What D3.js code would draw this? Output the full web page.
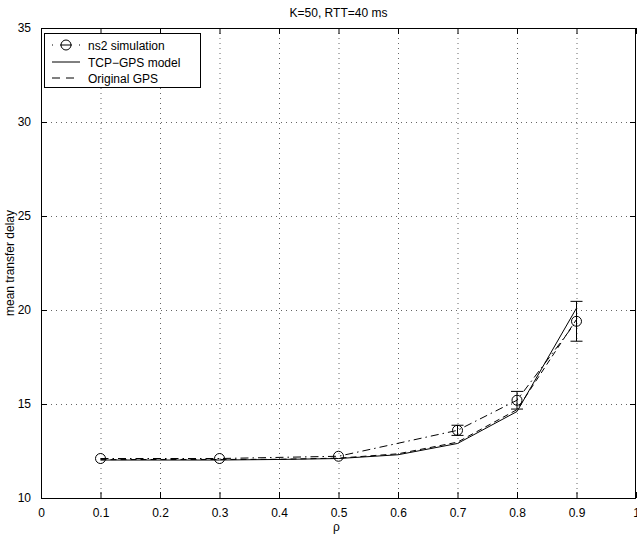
<!DOCTYPE html>
<html>
<head>
<meta charset="utf-8">
<script src="https://cdn.jsdelivr.net/npm/d3@7"></script>
<style>
  html, body { margin: 0; padding: 0; background: #fff; }
  svg { display: block; font-family: "Liberation Sans", Arial, Helvetica, sans-serif; }
</style>
</head>
<body>
<svg id="chart" width="637" height="535"></svg>
<script>
// Load values (rho) and the three delay curves
const rho = [0.1, 0.2, 0.3, 0.4, 0.5, 0.6, 0.7, 0.8, 0.9];
const tcpGpsModel = [12.02, 12.02, 12.02, 12.05, 12.1, 12.3, 12.9, 14.6, 20.1];
const originalGps = [12.04, 12.05, 12.05, 12.06, 12.12, 12.35, 12.97, 14.7, 19.5];

// ns2 simulation: mean and half-width of the confidence interval
const simRho = [0.1, 0.3, 0.5, 0.7, 0.8, 0.9];
const simMean = [12.1, 12.1, 12.22, 13.6, 15.2, 19.4];
const simErr = [0.03, 0.03, 0.03, 0.27, 0.47, 1.06];

const xTicks = [0, 0.1, 0.2, 0.3, 0.4, 0.5, 0.6, 0.7, 0.8, 0.9, 1];
const yTicks = [10, 15, 20, 25, 30, 35];

const titleText = "K=50, RTT=40 ms";
const xLabel = "\u03c1";
const yLabel = "mean transfer delay";
const legendLabels = ["ns2 simulation", "TCP\u2212GPS model", "Original GPS"];

const svg = d3.select("#chart");
const W = 637, H = 535;
const m = { left: 41, top: 28, right: 1, bottom: 37 };
const iw = W - m.left - m.right, ih = H - m.top - m.bottom;

const x = d3.scaleLinear().domain([0, 1]).range([m.left, m.left + iw]);
const y = d3.scaleLinear().domain([10, 35]).range([m.top + ih, m.top]);

const g = svg.append("g");

// grid (dotted)
g.append("g").selectAll("line").data(xTicks.slice(1, -1)).join("line")
  .attr("x1", d => x(d) + 0.5).attr("x2", d => x(d) + 0.5)
  .attr("y1", m.top).attr("y2", m.top + ih)
  .attr("stroke", "#666").attr("stroke-width", 1).attr("stroke-dasharray", "1,4");
g.append("g").selectAll("line").data(yTicks.slice(1, -1)).join("line")
  .attr("y1", d => y(d) + 0.5).attr("y2", d => y(d) + 0.5)
  .attr("x1", m.left).attr("x2", m.left + iw)
  .attr("stroke", "#666").attr("stroke-width", 1).attr("stroke-dasharray", "1,4");

// axes with inward ticks
const fmtX = d => (d === 0 || d === 1) ? String(d) : d3.format(".1f")(d);
const xAxisB = d3.axisBottom(x).tickValues(xTicks).tickFormat(fmtX).tickSizeInner(-6).tickSizeOuter(0).tickPadding(10);
const xAxisT = d3.axisTop(x).tickValues(xTicks).tickFormat("").tickSizeInner(-6).tickSizeOuter(0);
const yAxisL = d3.axisLeft(y).tickValues(yTicks).tickSizeInner(-6).tickSizeOuter(0).tickPadding(10);
const yAxisR = d3.axisRight(y).tickValues(yTicks).tickFormat("").tickSizeInner(-6).tickSizeOuter(0);

function styleAxis(sel) {
  sel.select(".domain").remove();
  sel.selectAll(".tick line").attr("stroke", "#000");
  sel.selectAll("text").attr("fill", "#000").attr("font-size", 12)
    .attr("font-family", "'Liberation Sans', Arial, sans-serif");
}
g.append("g").attr("transform", `translate(0,${m.top + ih})`).call(xAxisB).call(styleAxis);
g.append("g").attr("transform", `translate(0,${m.top})`).call(xAxisT).call(styleAxis);
g.append("g").attr("transform", `translate(${m.left},0)`).call(yAxisL).call(styleAxis);
g.append("g").attr("transform", `translate(${m.left + iw},0)`).call(yAxisR).call(styleAxis);

// box
g.append("rect").attr("x", m.left + 0.5).attr("y", m.top + 0.5)
  .attr("width", iw - 1).attr("height", ih)
  .attr("fill", "none").attr("stroke", "#000").attr("stroke-width", 1);

// curves
const line = d3.line().x(d => x(d[0])).y(d => y(d[1]));
g.append("path").datum(rho.map((r, i) => [r, originalGps[i]]))
  .attr("d", line).attr("fill", "none").attr("stroke", "#000")
  .attr("stroke-width", 1).attr("stroke-dasharray", "6,4");
g.append("path").datum(rho.map((r, i) => [r, tcpGpsModel[i]]))
  .attr("d", line).attr("fill", "none").attr("stroke", "#000").attr("stroke-width", 1);
g.append("path").datum(simRho.map((r, i) => [r, simMean[i]]))
  .attr("d", line).attr("fill", "none").attr("stroke", "#000")
  .attr("stroke-width", 1).attr("stroke-dasharray", "8,4,1.5,4");

// error bars and markers
const sim = simRho.map((r, i) => ({ r, m: simMean[i], e: simErr[i] }));
const eb = g.append("g").attr("stroke", "#000").attr("stroke-width", 1).attr("fill", "none");
const cap = 6;
sim.filter(d => d.e > 0.1).forEach(d => {
  const cx = x(d.r), y1 = y(d.m + d.e), y2 = y(d.m - d.e);
  eb.append("line").attr("x1", cx).attr("x2", cx).attr("y1", y1).attr("y2", y2);
  eb.append("line").attr("x1", cx - cap).attr("x2", cx + cap).attr("y1", y1).attr("y2", y1);
  eb.append("line").attr("x1", cx - cap).attr("x2", cx + cap).attr("y1", y2).attr("y2", y2);
});
eb.selectAll("circle").data(sim).join("circle")
  .attr("cx", d => x(d.r)).attr("cy", d => y(d.m)).attr("r", 5);

// title and axis labels
svg.append("text").attr("x", m.left + iw / 2).attr("y", 17).attr("text-anchor", "middle")
  .attr("font-size", 12).text(titleText);
svg.append("text").attr("x", m.left + iw / 2 - 2).attr("y", 531).attr("text-anchor", "middle")
  .attr("font-size", 12).text(xLabel);
svg.append("text").attr("transform", `translate(14,${m.top + ih / 2}) rotate(-90)`)
  .attr("text-anchor", "middle").attr("font-size", 12).text(yLabel);

// legend
const lg = svg.append("g").attr("transform", "translate(44,33)");
lg.append("rect").attr("x", 0.5).attr("y", 0.5).attr("width", 156).attr("height", 54)
  .attr("fill", "#fff").attr("stroke", "#000").attr("stroke-width", 1);
const rows = [12, 29, 45];
legendLabels.forEach((t, i) => {
  lg.append("text").attr("x", 44).attr("y", rows[i] + 4.5).attr("font-size", 12).text(t);
});
lg.append("line").attr("x1", 8).attr("x2", 36).attr("y1", rows[0]).attr("y2", rows[0])
  .attr("stroke", "#000").attr("stroke-dasharray", "1,7,12,7,1");
lg.append("circle").attr("cx", 22).attr("cy", rows[0]).attr("r", 5)
  .attr("fill", "none").attr("stroke", "#000");
lg.append("line").attr("x1", 8).attr("x2", 36).attr("y1", rows[1]).attr("y2", rows[1])
  .attr("stroke", "#000");
lg.append("line").attr("x1", 8).attr("x2", 36).attr("y1", rows[2]).attr("y2", rows[2])
  .attr("stroke", "#000").attr("stroke-dasharray", "8,6");
</script>
</body>
</html>
